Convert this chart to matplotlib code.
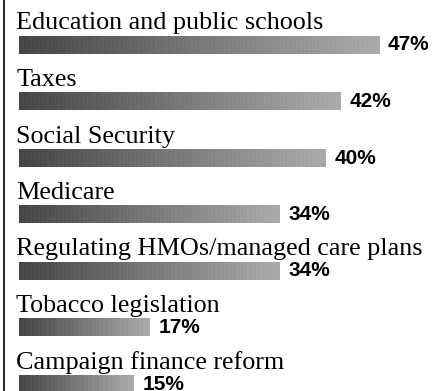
import numpy as np
import matplotlib
matplotlib.use("Agg")
import matplotlib.pyplot as plt
from matplotlib.colors import LinearSegmentedColormap
from matplotlib.lines import Line2D

categories = ["Education and public schools", "Taxes", "Social Security", "Medicare",
              "Regulating HMOs/managed care plans", "Tobacco legislation",
              "Campaign finance reform"]
values = [47, 42, 40, 34, 34, 17, 15]
labels = ["47%", "42%", "40%", "34%", "34%", "17%", "15%"]

W, H = 444, 391
fig = plt.figure(figsize=(W / 100, H / 100), dpi=100)
ax = fig.add_axes([0, 0, 1, 1])
ax.set_axis_off()

px_per = 7.66
x0px = 19
ax.set_xlim(-x0px / px_per, (W - x0px) / px_per)
row_px = 56.5
c0 = 45
ax.set_ylim((H - c0) / row_px, -c0 / row_px)

cmap = LinearSegmentedColormap.from_list("g", ["#444444", "#777777", "#aaaaaa"])
bh = 18 / row_px

for i, (cat, v, lab) in enumerate(zip(categories, values, labels)):
    n = max(int(v * px_per), 2)
    grad = np.linspace(0, 1, n)
    stripes = np.zeros(n)
    stripes[::4] = 0.05
    stripes[2::9] = 0.04
    img = np.clip(grad + stripes, 0, 1)[None, :]
    ax.imshow(img, cmap=cmap, vmin=0, vmax=1, aspect="auto",
              extent=(0, v, i + bh / 2, i - bh / 2), interpolation="nearest", zorder=2)
    ax.text(-0.35, i - 15.5 / row_px, cat, family="Liberation Serif", fontsize=18.8,
            ha="left", va="baseline", color="#000000", zorder=3)
    ax.text(v + 9 / px_per, i, lab, family="Liberation Sans", fontweight="bold",
            fontsize=15, ha="left", va="center", color="#000000", zorder=3)

ax.add_line(Line2D([4 / W, 4 / W], [0, 1], transform=ax.transAxes, color="black", lw=1.2))

fig.savefig("out.png", dpi=100)
